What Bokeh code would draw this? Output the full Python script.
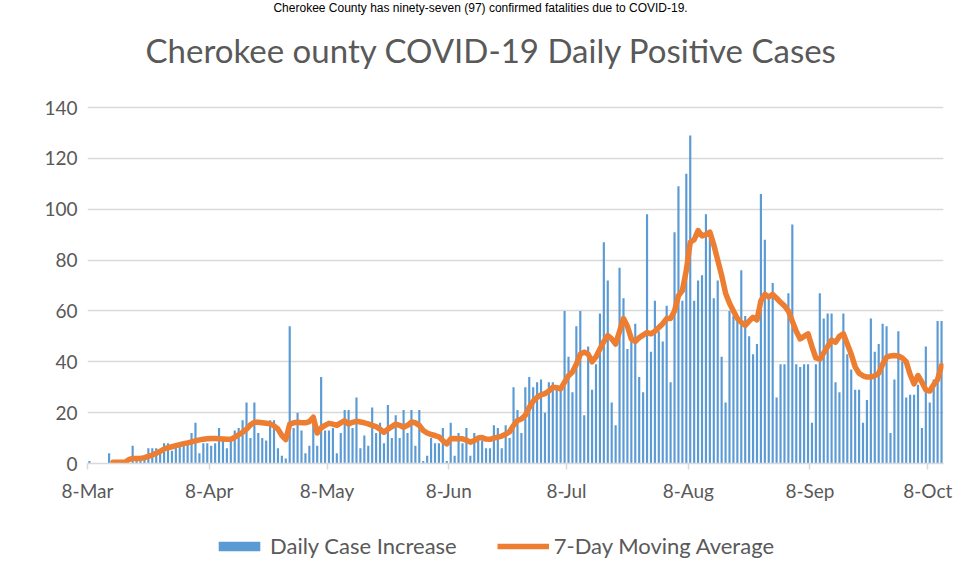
import pandas as pd
from bokeh.plotting import figure
from bokeh.models import (ColumnDataSource, FixedTicker, Legend, LegendItem, Range1d, Label)
from bokeh.layouts import column
from bokeh.embed import file_html
from bokeh.resources import INLINE

# ---------------- data ----------------
start_date = "2020-03-08"
n_days_axis = 218

daily_cases = [
    1, 0, 0, 0, 0, 4, 0, 0, 0, 0,
    0, 7, 1, 1, 2, 6, 6, 6, 5, 8,
    8, 5, 8, 8, 8, 8, 12, 16, 4, 8,
    8, 7, 8, 14, 10, 6, 10, 13, 14, 17,
    24, 10, 24, 12, 10, 9, 17, 17, 6, 3,
    2, 54, 14, 20, 13, 4, 7, 16, 7, 34,
    13, 13, 14, 4, 12, 21, 21, 14, 26, 6,
    11, 7, 22, 12, 16, 8, 23, 10, 19, 10,
    21, 12, 21, 7, 21, 1, 3, 10, 8, 8,
    14, 1, 16, 3, 12, 8, 14, 3, 12, 10,
    9, 6, 6, 15, 14, 6, 15, 10, 30, 21,
    12, 30, 34, 30, 32, 33, 20, 32, 32, 29,
    29, 60, 42, 28, 54, 60, 19, 46, 29, 39,
    59, 87, 72, 24, 15, 77, 65, 45, 50, 55,
    34, 28, 98, 44, 64, 52, 48, 62, 32, 91,
    109, 64, 114, 129, 64, 72, 74, 98, 90, 65,
    72, 42, 24, 60, 58, 56, 76, 58, 50, 43,
    47, 106, 88, 65, 71, 26, 39, 39, 67, 94,
    39, 38, 39, 39, 16, 39, 67, 57, 59, 59,
    32, 28, 59, 43, 37, 29, 29, 16, 25, 57,
    44, 47, 55, 54, 12, 33, 52, 40, 26, 27,
    27, 31, 14, 46, 24, 33, 56, 56,
]

ma_first_day = 6
moving_avg = [
    0.5, 0.5, 0.5, 0.5,
    1.5, 2, 2, 2, 2.3, 2.8, 3.3, 4, 4.8, 5.7,
    6.2, 6.6, 7, 7.4, 7.8, 8.1, 8.5, 8.9, 9.3, 9.5,
    9.7, 9.8, 9.8, 9.7, 9.6, 9.5, 9.5, 10.3, 11.3, 12.3,
    13.5, 15.2, 16.2, 16.2, 16, 15.8, 15.6, 14.8, 13.5, 11,
    9.4, 15.5, 16, 16.2, 16, 16, 16.5, 18.2, 12, 14,
    15, 15.8, 15.5, 15, 16, 16.8, 15.5, 16.2, 16.6, 16.3,
    16, 15.6, 15, 14.5, 13.5, 12.3, 13.5, 14.5, 15.5, 15,
    14.3, 15, 16.3, 16, 15, 13, 12, 11.4, 11, 10.5,
    9, 7.7, 9.7, 9.8, 9.7, 9.7, 9.2, 8.4, 9, 10,
    10.2, 9.6, 9.5, 10, 10.4, 10.8, 11.5, 12.5, 15, 16.9,
    17.5, 19, 22, 24.5, 26, 27, 27.5, 28.5, 30, 29.8,
    29.4, 32, 34.5, 36, 39, 43, 43.8, 43, 40, 42,
    45, 48, 50.3, 49, 47, 52, 57, 54, 49, 48,
    49.5, 50.5, 51.5, 51, 52, 53.5, 55, 57, 57, 60,
    66, 68, 76, 87, 88, 91.6, 89.5, 90, 91, 86,
    80, 74, 67, 63, 60, 57, 55.5, 54.3, 56, 57.5,
    56.5, 64, 66.5, 65.5, 66.5, 65, 63.4, 62, 60, 56,
    52, 49, 50, 51, 46, 41.5, 41, 43.5, 46, 48.5,
    47.7, 50, 51, 47, 43, 38, 35.5, 34.5, 34, 34,
    34.5, 35.5, 39, 41.8, 42.3, 42.5, 42.3, 41.5, 40, 35,
    31.3, 34.6, 32, 29, 28.5, 31, 33, 38.5,
]

y_ticks = [0, 20, 40, 60, 80, 100, 120, 140]
x_tick_dates = ["2020-03-08", "2020-04-08", "2020-05-08", "2020-06-08",
                "2020-07-08", "2020-08-08", "2020-09-08", "2020-10-08"]
x_tick_labels = ["8-Mar", "8-Apr", "8-May", "8-Jun", "8-Jul", "8-Aug", "8-Sep", "8-Oct"]

title_text = "Cherokee ounty COVID-19 Daily Positive Cases"
top_text = "Cherokee County has ninety-seven (97) confirmed fatalities due to COVID-19."
series_names = ["Daily Case Increase", "7-Day Moving Average"]

# ---------------- build ----------------
BLUE = "#5B9BD5"
ORANGE = "#ED7D31"
GRID = "#d9d9d9"
TXT = "#595959"
FONT = "Lato"

day0 = pd.Timestamp(start_date)
half_day = pd.Timedelta(hours=12)
dates = pd.date_range(day0, periods=len(daily_cases), freq="D") + half_day
ma_dates = dates[ma_first_day:ma_first_day + len(moving_avg)]

bar_src = ColumnDataSource(dict(date=dates, cases=daily_cases))
ma_src = ColumnDataSource(dict(date=ma_dates, avg=moving_avg))

# frame reaches the top of the canvas so the heading texts sit inside it;
# the value axis still runs 0..140 (ticks), headroom above holds the titles
Y_TOP = 182.1
p = figure(width=953, height=510, x_axis_type="datetime",
           x_range=Range1d(day0, day0 + pd.Timedelta(days=n_days_axis)),
           y_range=Range1d(0, Y_TOP),
           output_backend="svg", toolbar_location=None,
           min_border_left=87, min_border_right=10,
           min_border_top=0, min_border_bottom=47)
p.outline_line_color = None
p.background_fill_color = "white"
p.border_fill_color = "white"

bars = p.vbar(x="date", top="cases", width=0.55 * 86400000, source=bar_src,
              fill_color=BLUE, line_color=None)
line = p.line(x="date", y="avg", source=ma_src, line_color=ORANGE,
              line_width=5.5, line_join="round", line_cap="round")

def day_ms(days):
    return (day0 + pd.Timedelta(days=days)).value // 10**6

p.add_layout(Label(x=day_ms(100.1), y=179.0, text=top_text,
                   text_align="center", text_baseline="middle",
                   text_font="Liberation Sans", text_font_size="12px",
                   text_color="#000000"))
p.add_layout(Label(x=day_ms(102.9), y=162.8, text=title_text,
                   text_align="center", text_baseline="middle",
                   text_font=FONT, text_font_size="33px",
                   text_color=TXT))

tick_ms = [pd.Timestamp(d).value // 10**6 for d in x_tick_dates]
p.xaxis.ticker = FixedTicker(ticks=tick_ms)
p.xaxis.major_label_overrides = {t: lab for t, lab in zip(tick_ms, x_tick_labels)}
p.xaxis.axis_line_color = GRID
p.xaxis.axis_line_width = 1.5
p.xaxis.major_tick_line_color = GRID
p.xaxis.major_tick_line_width = 1.5
p.xaxis.major_tick_out = 6
p.xaxis.major_tick_in = 0
p.xaxis.minor_tick_line_color = None
p.xaxis.major_label_text_font = FONT
p.xaxis.major_label_text_font_size = "19px"
p.xaxis.major_label_text_color = TXT
p.xaxis.major_label_standoff = 9

p.yaxis.ticker = FixedTicker(ticks=y_ticks)
p.yaxis.axis_line_color = None
p.yaxis.major_tick_line_color = None
p.yaxis.minor_tick_line_color = None
p.yaxis.major_label_text_font = FONT
p.yaxis.major_label_text_font_size = "19px"
p.yaxis.major_label_text_color = TXT
p.yaxis.major_label_standoff = 4

p.xgrid.grid_line_color = None
p.ygrid.grid_line_color = GRID
p.ygrid.grid_line_width = 1.5

# legend strip below the chart (sample renderers sit outside its visible range)
leg = figure(width=953, height=70, x_range=Range1d(0, 1), y_range=Range1d(0, 1),
             x_axis_type=None, y_axis_type=None,
             output_backend="svg", toolbar_location=None, min_border=0)
leg.outline_line_color = None
leg.grid.grid_line_color = None
lb = leg.vbar(x=[-5], top=[-4], width=0.1, fill_color=BLUE, line_color=None)
ll = leg.line(x=[-5, -4], y=[-4, -4], line_color=ORANGE, line_width=5.5)
legend = Legend(items=[LegendItem(label=series_names[0], renderers=[lb]),
                       LegendItem(label=series_names[1], renderers=[ll])],
                orientation="horizontal", location=(126, 21),
                glyph_width=52, glyph_height=12, label_standoff=5, spacing=40,
                label_text_font=FONT, label_text_font_size="22px",
                label_text_color=TXT, border_line_color=None,
                background_fill_alpha=0, padding=0, margin=0)
leg.add_layout(legend)

layout = column(p, leg, spacing=0)
open("out.html", "w").write(file_html(layout, INLINE))
